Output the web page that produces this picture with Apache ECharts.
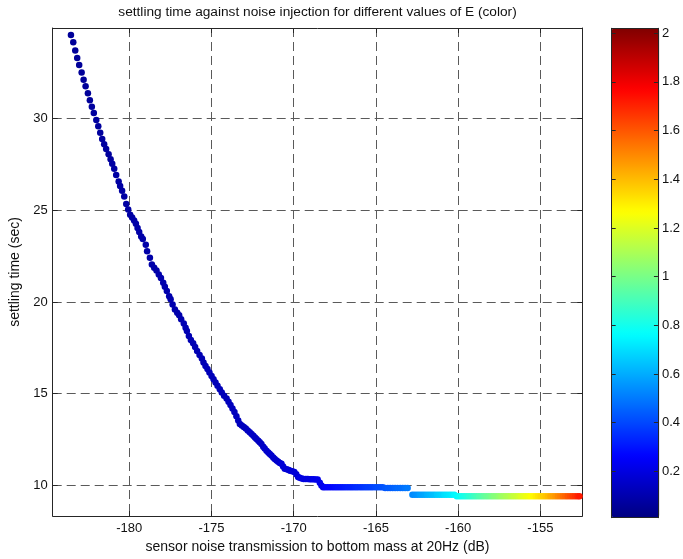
<!DOCTYPE html>
<html>
<head>
<meta charset="utf-8">
<script src="https://cdn.jsdelivr.net/npm/echarts@6/dist/echarts.min.js"></script>
<style>
  html, body { margin: 0; padding: 0; background: #ffffff; }
  #chart { width: 683px; height: 559px; }
</style>
</head>
<body>
<div id="chart"></div>
<script>
// Sensor noise transmission to bottom mass at 20 Hz (dB), one entry per run
const noiseDb = [
  -183.54, -183.40, -183.28, -183.16, -183.04, -182.89, -182.77, -182.65, -182.51, -182.39,
  -182.27, -182.15, -182.00, -181.88, -181.76, -181.64, -181.52, -181.40, -181.25, -181.13,
  -181.03, -180.91, -180.79, -180.64, -180.55, -180.43, -180.30, -180.18, -180.06, -179.94,
  -179.82,
  -179.70, -179.59, -179.49, -179.39, -179.27, -179.17, -178.99, -178.91, -178.74, -178.62,
  -178.48, -178.34, -178.20, -178.07, -177.93, -177.83, -177.71, -177.57, -177.48, -177.36,
  -177.22, -177.08, -176.96, -176.84, -176.68, -176.57, -176.49, -176.37, -176.25, -176.11,
  -175.99, -175.87, -175.72, -175.58, -175.48, -175.36, -175.24, -175.12, -174.99, -174.87,
  -174.75, -174.63, -174.49, -174.37, -174.23, -174.08,
  -173.96, -173.84, -173.72, -173.60, -173.48, -173.37, -173.27, -173.15, -173.03, -172.91,
  -172.79, -172.67, -172.56, -172.45, -172.35, -172.26, -172.15, -172.06, -171.96, -171.85,
  -171.76, -171.65, -171.54, -171.45, -171.35, -171.24, -171.15, -171.04, -170.94, -170.84,
  -170.74, -170.64, -170.54, -170.42, -170.30, -170.21, -170.09, -169.96, -169.84, -169.73,
  -169.63, -169.51, -169.39, -169.26, -169.14, -169.02, -168.90, -168.78, -168.66, -168.54,
  -168.41, -168.31, -168.21,
  -168.08, -167.93, -167.78, -167.62, -167.47, -167.32, -167.17, -167.02, -166.87, -166.71,
  -166.56, -166.41, -166.26, -166.11, -165.95, -165.80, -165.65, -165.50, -165.35, -165.20,
  -165.04, -164.89, -164.74, -164.59, -164.44, -164.28, -164.13, -163.98, -163.83, -163.68,
  -163.52, -163.37, -163.22, -163.07,
  -162.78, -162.63, -162.48, -162.33, -162.18, -162.03, -161.88, -161.73, -161.58, -161.43,
  -161.28, -161.13, -160.98, -160.83, -160.68, -160.53, -160.38, -160.23, -160.08, -159.93,
  -159.78, -159.63, -159.48, -159.33, -159.18, -159.03, -158.88, -158.73, -158.58, -158.43,
  -158.28, -158.13, -157.98, -157.83, -157.68, -157.53, -157.38, -157.23, -157.08, -156.93,
  -156.78, -156.63, -156.48, -156.33, -156.18, -156.03, -155.88, -155.73, -155.58, -155.43,
  -155.28, -155.13, -154.98, -154.83, -154.68, -154.53, -154.38, -154.23, -154.08, -153.93,
  -153.78, -153.63, -153.48, -153.33, -153.18, -153.03, -152.88, -152.73, -152.62
];

// Settling time (sec) for each run
const settleSec = [
  34.54, 34.14, 33.69, 33.29, 32.91, 32.50, 32.10, 31.75, 31.37, 30.98,
  30.63, 30.29, 29.91, 29.57, 29.22, 28.88, 28.59, 28.33, 28.05, 27.77,
  27.52, 27.26, 26.92, 26.56, 26.32, 26.05, 25.74, 25.34, 25.04, 24.75,
  24.60,
  24.44, 24.26, 24.03, 23.81, 23.57, 23.43, 23.12, 22.76, 22.40, 22.04,
  21.86, 21.71, 21.49, 21.31, 21.04, 20.83, 20.59, 20.31, 20.14, 19.86,
  19.59, 19.41, 19.27, 19.05, 18.83, 18.60, 18.41, 18.14, 17.93, 17.75,
  17.55, 17.33, 17.11, 16.92, 16.70, 16.51, 16.34, 16.16, 15.97, 15.79,
  15.61, 15.43, 15.25, 15.07, 14.89, 14.74,
  14.56, 14.38, 14.19, 14.01, 13.77, 13.54, 13.35, 13.27, 13.19, 13.11,
  13.00, 12.90, 12.81, 12.71, 12.62, 12.54, 12.44, 12.36, 12.26, 12.11,
  12.01, 11.90, 11.80, 11.72, 11.63, 11.53, 11.45, 11.36, 11.30, 11.23,
  11.18, 11.04, 10.91, 10.88, 10.84, 10.81, 10.78, 10.74, 10.61, 10.46,
  10.42, 10.38, 10.36, 10.35, 10.35, 10.34, 10.34, 10.34, 10.33, 10.33,
  10.15, 10.00, 9.91,
  9.91, 9.91, 9.91, 9.91, 9.91, 9.91, 9.91, 9.91, 9.91, 9.91,
  9.91, 9.91, 9.91, 9.91, 9.91, 9.91, 9.91, 9.91, 9.91, 9.91,
  9.91, 9.91, 9.91, 9.91, 9.86, 9.86, 9.86, 9.86, 9.86, 9.86,
  9.86, 9.86, 9.86, 9.86,
  9.50, 9.50, 9.50, 9.50, 9.50, 9.50, 9.50, 9.50, 9.50, 9.50,
  9.50, 9.50, 9.50, 9.50, 9.50, 9.50, 9.50, 9.50, 9.41, 9.41,
  9.41, 9.41, 9.41, 9.41, 9.41, 9.41, 9.41, 9.41, 9.41, 9.41,
  9.41, 9.41, 9.41, 9.41, 9.41, 9.41, 9.41, 9.41, 9.41, 9.41,
  9.41, 9.41, 9.41, 9.41, 9.41, 9.41, 9.41, 9.41, 9.41, 9.41,
  9.41, 9.41, 9.41, 9.41, 9.41, 9.41, 9.41, 9.41, 9.41, 9.41,
  9.41, 9.41, 9.41, 9.41, 9.41, 9.41, 9.41, 9.41, 9.41
];

// Value of E for each run (drawn as colour)
const eValue = [
  0.06, 0.06, 0.06, 0.06, 0.06, 0.06, 0.06, 0.06, 0.06, 0.06,
  0.07, 0.07, 0.07, 0.07, 0.07, 0.07, 0.07, 0.07, 0.07, 0.07,
  0.08, 0.08, 0.08, 0.08, 0.08, 0.08, 0.08, 0.08, 0.08, 0.08,
  0.08,
  0.09, 0.09, 0.09, 0.09, 0.09, 0.09, 0.09, 0.09, 0.09, 0.09,
  0.09, 0.09, 0.10, 0.10, 0.10, 0.10, 0.10, 0.10, 0.10, 0.10,
  0.10, 0.10, 0.10, 0.10, 0.11, 0.11, 0.11, 0.11, 0.11, 0.11,
  0.11, 0.11, 0.11, 0.11, 0.11, 0.12, 0.12, 0.12, 0.12, 0.12,
  0.12, 0.12, 0.12, 0.12, 0.12, 0.12,
  0.13, 0.13, 0.13, 0.13, 0.13, 0.13, 0.13, 0.13, 0.13, 0.13,
  0.14, 0.14, 0.14, 0.14, 0.14, 0.14, 0.14, 0.14, 0.14, 0.14,
  0.16, 0.16, 0.16, 0.16, 0.16, 0.16, 0.16, 0.16, 0.16, 0.16,
  0.18, 0.18, 0.18, 0.18, 0.18, 0.18, 0.18, 0.18, 0.18, 0.18,
  0.20, 0.20, 0.20, 0.20, 0.20, 0.20, 0.20, 0.22, 0.22, 0.22,
  0.22, 0.22, 0.22,
  0.25, 0.26, 0.26, 0.27, 0.28, 0.29, 0.29, 0.30, 0.31, 0.32,
  0.32, 0.33, 0.34, 0.35, 0.35, 0.36, 0.37, 0.38, 0.38, 0.39,
  0.40, 0.41, 0.41, 0.42, 0.43, 0.44, 0.44, 0.45, 0.46, 0.47,
  0.47, 0.48, 0.49, 0.50,
  0.53, 0.54, 0.55, 0.57, 0.58, 0.59, 0.61, 0.62, 0.63, 0.64,
  0.66, 0.67, 0.68, 0.70, 0.71, 0.72, 0.73, 0.75, 0.76, 0.78,
  0.80, 0.81, 0.83, 0.85, 0.86, 0.88, 0.90, 0.92, 0.93, 0.95,
  0.97, 0.98, 1.00, 1.02, 1.03, 1.05, 1.07, 1.08, 1.10, 1.11,
  1.13, 1.15, 1.16, 1.18, 1.20, 1.21, 1.23, 1.24, 1.26, 1.28,
  1.30, 1.32, 1.34, 1.36, 1.38, 1.40, 1.43, 1.45, 1.47, 1.50,
  1.52, 1.55, 1.57, 1.60, 1.62, 1.65, 1.67, 1.70, 1.72
];

// Tick labels
const xTicks = [-180, -175, -170, -165, -160, -155];
const yTicks = [10, 15, 20, 25, 30];
const colorTicks = [0.2, 0.4, 0.6, 0.8, 1, 1.2, 1.4, 1.6, 1.8, 2];

// Axis limits
const xRange = [-184.65, -152.45];
const yRange = [8.34, 34.92];
const eRange = [0.01, 2.02];

// Jet colour map, evenly spaced stops from low to high
const jetStops = ['#000080', '#0000ff', '#0080ff', '#00ffff', '#80ff80',
                  '#ffff00', '#ff8000', '#ff0000', '#800000'];

const titleText = 'settling time against noise injection for different values of E (color)';
const xLabelText = 'sensor noise transmission to bottom mass at 20Hz (dB)';
const yLabelText = 'settling time (sec)';

const points = noiseDb.map((x, i) => [x, settleSec[i], eValue[i]]);

const FONT = '"Liberation Sans", Arial, Helvetica, sans-serif';
const frameLine = { show: true, onZero: false, lineStyle: { color: '#262626', width: 1 } };
const gridDash = { show: true, lineStyle: { color: '#5a5a5a', width: 1, type: [9, 5] } };
const labelStyle = { color: '#111', fontSize: 13, fontFamily: FONT };
const nameStyle = { color: '#111', fontSize: 14, fontFamily: FONT };

function tickInside(values, len) {
  return { show: true, inside: true, length: len, customValues: values,
           lineStyle: { color: '#262626', width: 1 } };
}

const chart = echarts.init(document.getElementById('chart'), null, { renderer: 'canvas' });

chart.setOption({
  animation: false,
  backgroundColor: '#ffffff',
  textStyle: { fontFamily: FONT },
  grid: [
    { left: 52.7, top: 27.7, width: 529.6, height: 489.6, containLabel: false },
    { left: 611.7, top: 28.3, width: 47.6, height: 489.4, containLabel: false }
  ],
  xAxis: [
    {
      gridIndex: 0, type: 'value', position: 'bottom', min: xRange[0], max: xRange[1],
      axisLine: frameLine, axisTick: tickInside(xTicks, 5),
      axisLabel: Object.assign({ customValues: xTicks, margin: 6 }, labelStyle),
      splitLine: gridDash,
      name: xLabelText, nameLocation: 'middle', nameGap: 24,
      nameTextStyle: nameStyle
    },
    {
      gridIndex: 0, type: 'value', position: 'top', min: xRange[0], max: xRange[1],
      axisLine: frameLine, axisTick: tickInside(xTicks, 5),
      axisLabel: { show: false }, splitLine: { show: false },
      name: titleText, nameLocation: 'middle', nameGap: 9,
      nameTextStyle: { color: '#111', fontSize: 13.7, fontFamily: FONT }
    },
    {
      gridIndex: 1, type: 'value', position: 'bottom', min: 0, max: 1, z: 10,
      axisLine: frameLine, axisTick: { show: false }, axisLabel: { show: false },
      splitLine: { show: false }
    },
    {
      gridIndex: 1, type: 'value', position: 'top', min: 0, max: 1, z: 10,
      axisLine: frameLine, axisTick: { show: false }, axisLabel: { show: false },
      splitLine: { show: false }
    }
  ],
  yAxis: [
    {
      gridIndex: 0, type: 'value', position: 'left', min: yRange[0], max: yRange[1],
      axisLine: frameLine, axisTick: tickInside(yTicks, 5),
      axisLabel: Object.assign({ customValues: yTicks, margin: 5 }, labelStyle),
      splitLine: gridDash,
      name: yLabelText, nameLocation: 'middle', nameGap: 30,
      nameTextStyle: nameStyle
    },
    {
      gridIndex: 0, type: 'value', position: 'right', min: yRange[0], max: yRange[1],
      axisLine: frameLine, axisTick: tickInside(yTicks, 5),
      axisLabel: { show: false }, splitLine: { show: false }
    },
    {
      gridIndex: 1, type: 'value', position: 'right', min: eRange[0], max: eRange[1], z: 10,
      axisLine: frameLine, axisTick: tickInside(colorTicks, 4),
      axisLabel: Object.assign({ customValues: colorTicks, margin: 4 }, labelStyle),
      splitLine: { show: false }
    },
    {
      gridIndex: 1, type: 'value', position: 'left', min: eRange[0], max: eRange[1], z: 10,
      axisLine: frameLine, axisTick: tickInside(colorTicks, 4),
      axisLabel: { show: false }, splitLine: { show: false }
    }
  ],
  visualMap: [{
    type: 'continuous',
    seriesIndex: 0,
    dimension: 2,
    min: eRange[0],
    max: eRange[1],
    orient: 'vertical',
    left: 611.7,
    top: 28.3,
    itemWidth: 47.6,
    itemHeight: 489.4,
    padding: 0,
    calculable: false,
    hoverLink: false,
    text: null,
    z: 1,
    inRange: { color: jetStops }
  }],
  series: [{
    type: 'scatter',
    xAxisIndex: 0,
    yAxisIndex: 0,
    data: points,
    symbol: 'circle',
    symbolSize: 6.5,
    clip: false,
    silent: true,
    emphasis: { disabled: true },
    itemStyle: { opacity: 1 }
  }]
});
</script>
</body>
</html>
